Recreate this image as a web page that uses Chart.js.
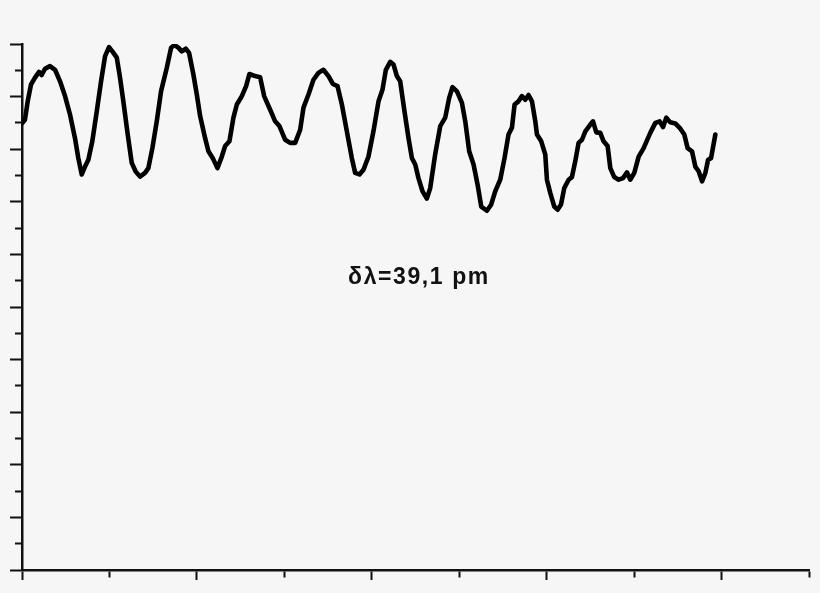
<!DOCTYPE html>
<html>
<head>
<meta charset="utf-8">
<script src="https://cdn.jsdelivr.net/npm/chart.js@4/dist/chart.umd.min.js"></script>
<style>
  html, body { margin: 0; padding: 0; background: #f6f6f6; }
  #wrap { width: 820px; height: 593px; position: relative; }
</style>
</head>
<body>
<div id="wrap"><canvas id="spectrum"></canvas></div>
<script>
// wavelength axis (arbitrary units, no labels in the original)
const xValues = [
  0.003, 0.034, 0.065, 0.103, 0.149, 0.195, 0.225, 0.263, 0.320, 0.378,
  0.435, 0.492, 0.549, 0.606, 0.644, 0.683, 0.721, 0.759, 0.804, 0.855,
  0.904, 0.950, 0.995, 1.033, 1.084, 1.121, 1.159, 1.209, 1.255, 1.301,
  1.350, 1.407, 1.445, 1.491, 1.541, 1.590, 1.656, 1.705, 1.743, 1.788,
  1.827, 1.873, 1.911, 1.960, 1.999, 2.037, 2.094, 2.132, 2.182, 2.235,
  2.285, 2.323, 2.372, 2.418, 2.457, 2.514, 2.563, 2.601, 2.666, 2.723,
  2.769, 2.838, 2.895, 2.944, 3.009, 3.066, 3.124, 3.181, 3.219, 3.276,
  3.333, 3.390, 3.447, 3.505, 3.555, 3.608, 3.658, 3.715, 3.772, 3.810,
  3.859, 3.905, 3.962, 4.019, 4.077, 4.122, 4.161, 4.211, 4.249, 4.287,
  4.325, 4.374, 4.420, 4.459, 4.497, 4.534, 4.580, 4.630, 4.668, 4.725,
  4.783, 4.840, 4.886, 4.923, 4.974, 5.031, 5.069, 5.114, 5.164, 5.214,
  5.252, 5.317, 5.366, 5.412, 5.469, 5.518, 5.564, 5.603, 5.633, 5.678,
  5.717, 5.755, 5.793, 5.832, 5.870, 5.889, 5.938, 5.984, 6.003, 6.041,
  6.087, 6.125, 6.164, 6.201, 6.251, 6.289, 6.327, 6.365, 6.404, 6.442,
  6.491, 6.530, 6.568, 6.613, 6.651, 6.697, 6.728, 6.773, 6.823, 6.873,
  6.919, 6.957, 7.002, 7.052, 7.109, 7.185, 7.243, 7.292, 7.331, 7.368,
  7.414, 7.471, 7.529, 7.574, 7.612, 7.662, 7.700, 7.738, 7.777, 7.815,
  7.846, 7.880, 7.929
];

// intensity
const intensity = [
  8.50, 8.56, 8.91, 9.23, 9.36, 9.47, 9.41, 9.53, 9.58, 9.51,
  9.29, 9.01, 8.66, 8.21, 7.83, 7.52, 7.67, 7.80, 8.15, 8.72,
  9.29, 9.77, 9.94, 9.86, 9.74, 9.36, 8.91, 8.28, 7.74, 7.57,
  7.48, 7.55, 7.64, 8.02, 8.53, 9.10, 9.55, 9.93, 9.98, 9.93,
  9.86, 9.91, 9.83, 9.42, 9.04, 8.63, 8.21, 7.96, 7.83, 7.64,
  7.86, 8.06, 8.15, 8.60, 8.85, 9.01, 9.20, 9.43, 9.39, 9.37,
  9.01, 8.75, 8.53, 8.44, 8.18, 8.12, 8.12, 8.37, 8.79, 9.04,
  9.32, 9.45, 9.51, 9.39, 9.24, 9.20, 8.85, 8.34, 7.83, 7.55,
  7.52, 7.61, 7.86, 8.34, 8.91, 9.13, 9.51, 9.66, 9.61, 9.39,
  9.29, 8.72, 8.21, 7.83, 7.71, 7.45, 7.20, 7.06, 7.26, 7.90,
  8.44, 8.60, 8.98, 9.18, 9.10, 8.88, 8.53, 7.96, 7.71, 7.29,
  6.91, 6.83, 6.95, 7.20, 7.42, 7.83, 8.28, 8.41, 8.85, 8.91,
  9.01, 8.94, 9.03, 8.91, 8.53, 8.28, 8.15, 7.90, 7.42, 7.17,
  6.91, 6.85, 6.95, 7.26, 7.42, 7.47, 7.77, 8.12, 8.18, 8.34,
  8.45, 8.53, 8.32, 8.31, 8.15, 8.06, 7.64, 7.47, 7.42, 7.45,
  7.56, 7.42, 7.55, 7.86, 8.02, 8.31, 8.50, 8.53, 8.42, 8.60,
  8.51, 8.49, 8.39, 8.28, 8.02, 7.96, 7.67, 7.58, 7.39, 7.55,
  7.80, 7.83, 8.28
];

const annotationText = 'δλ=39,1 pm';

const points = xValues.map((x, i) => ({ x: x, y: intensity[i] }));

// annotation placed with the chart's own scales
const textPlugin = {
    id: 'deltaLabel',
    afterDatasetsDraw(chart) {
        const ctx = chart.ctx;
        const px = chart.scales.x.getPixelForValue(4.54);
        const py = chart.scales.y.getPixelForValue(5.44);
        ctx.save();
        ctx.fillStyle = '#111111';
        ctx.font = 'bold 23px "Liberation Sans", Arial, sans-serif';
        ctx.letterSpacing = '1.6px';
        ctx.textAlign = 'center';
        ctx.textBaseline = 'alphabetic';
        ctx.fillText(annotationText, px, py);
        ctx.restore();
    }
};

const isWhole = v => Math.abs(v - Math.round(v)) < 1e-6;

new Chart(document.getElementById('spectrum').getContext('2d'), {
    type: 'line',
    data: {
        datasets: [{
            data: points,
            borderColor: '#000000',
            borderWidth: 4.6,
            pointRadius: 0,
            tension: 0,
            borderJoinStyle: 'round',
            borderCapStyle: 'round',
            fill: false
        }]
    },
    options: {
        responsive: true,
        maintainAspectRatio: false,
        animation: false,
        layout: {
            padding: { left: 10, right: 11, top: 44, bottom: 13 }
        },
        plugins: {
            legend: { display: false },
            tooltip: { enabled: false }
        },
        scales: {
            x: {
                type: 'linear',
                min: 0,
                max: 9,
                ticks: { display: false, stepSize: 1 },
                grid: {
                    drawOnChartArea: false,
                    drawTicks: true,
                    tickLength: 10,
                    tickWidth: 2,
                    tickColor: '#111111',
                    // minor ticks: only the first few px from the axis are drawn
                    tickBorderDash: ctx => (ctx.tick && ctx.tick.value % 2 === 0) ? [] : [6, 20]
                },
                border: { display: true, color: '#111111', width: 2.5 }
            },
            y: {
                type: 'linear',
                min: 0,
                max: 10,
                ticks: { display: false, stepSize: 0.5 },
                grid: {
                    drawOnChartArea: false,
                    drawTicks: true,
                    tickLength: 12,
                    tickWidth: 2,
                    tickColor: '#111111',
                    tickBorderDash: ctx => (ctx.tick && isWhole(ctx.tick.value)) ? [] : [0, 5, 7, 20]
                },
                border: { display: true, color: '#111111', width: 2.5 }
            }
        }
    },
    plugins: [textPlugin]
});
</script>
</body>
</html>
